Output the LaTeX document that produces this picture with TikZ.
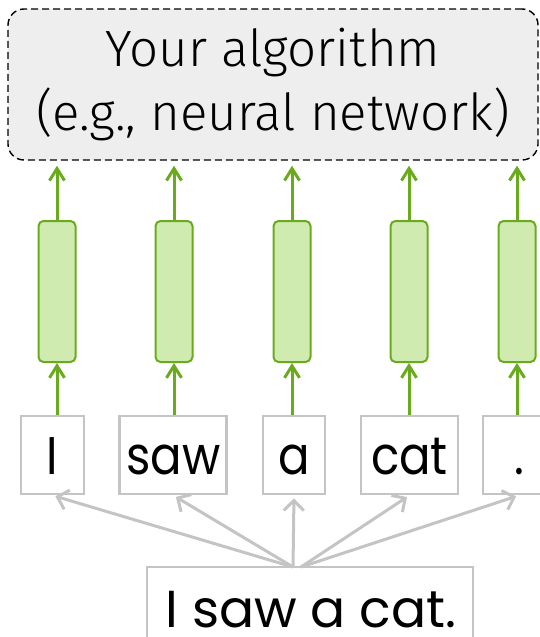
\documentclass[tikz,border=0pt]{standalone}
\usepackage{fontspec}
\setmainfont{Fira Sans Light}
\newfontfamily\wordfont[FakeStretch=0.88]{Poppins}
\newfontfamily\sentfont{Poppins}
\usetikzlibrary{arrows.meta,calc}
\definecolor{gstroke}{HTML}{6AAB1E}
\definecolor{gfill}{HTML}{D0EBB0}
\definecolor{lgray}{HTML}{C4C4C4}
\definecolor{boxfill}{HTML}{EEEEEE}
\tikzset{
  topbox/.style={draw=black, line width=1.4pt, dash pattern=on 7pt off 4pt, rounded corners=16pt, fill=boxfill, minimum width=530pt, minimum height=151pt, align=center, inner sep=0pt, font=\fontsize{51}{64}\selectfont},
  bar/.style={draw=gstroke, fill=gfill, line width=2pt, rounded corners=5pt, minimum width=37pt, minimum height=141pt, inner sep=0pt},
  garrow/.style={draw=gstroke, line width=3pt, -{Straight Barb[length=12pt,width=15pt]}},
  wordbox/.style={draw=lgray, line width=2.8pt, minimum height=78pt, inner sep=0pt, text height=38pt, text depth=0pt, font=\wordfont\fontsize{53}{60}\selectfont},
  grarrow/.style={draw=lgray, line width=3pt, -{Straight Barb[length=10pt,width=20pt]}, shorten >=3pt}
}
\begin{document}
\begin{tikzpicture}[x=1pt,y=-1pt]
\useasboundingbox (0,0) rectangle (540,637);
\clip (0,0) rectangle (540,637);
\node[topbox] (alg) at (273,84.5) {Your algorithm\\(e.g., neural network)};
\node[bar] (b1) at (57,291.5) {};
\node[bar] (b2) at (174,291.5) {};
\node[bar] (b3) at (292,291.5) {};
\node[bar] (b4) at (409,291.5) {};
\node[bar] (b5) at (517,291.5) {};
\node[wordbox, minimum width=63pt] (w1) at (52.5,455) {I};
\node[wordbox, minimum width=107pt] (w2) at (173.25,455) {saw};
\node[wordbox, minimum width=62pt] (w3) at (294,455) {a};
\node[wordbox, minimum width=97pt] (w4) at (409.5,455) {cat};
\node[wordbox, minimum width=72pt] (w5) at (519,455) {.};
\node[wordbox, minimum width=326pt, minimum height=72pt] (bot) at (310,603) {};
\node[font=\sentfont\fontsize{52}{60}\selectfont, anchor=base, inner sep=0pt] (bottxt) at (311,627) {I saw a cat.};
\coordinate (s1) at (293,567);
\coordinate (s2) at (301,567);
\foreach \i in {1,...,5}{
  \draw[garrow] (w\i.north -| b\i) -- (b\i.south);
  \draw[garrow, shorten >=5pt] (b\i.north) -- (b\i.north |- alg.south);
}
\draw[grarrow] (s1) -- (w1.south);
\draw[grarrow] (s1) -- (w2.south);
\draw[grarrow] (s1) -- (w3.south);
\draw[grarrow] (s2) -- (w4.south);
\draw[grarrow] (s2) -- (w5.south);
\end{tikzpicture}
\end{document}
